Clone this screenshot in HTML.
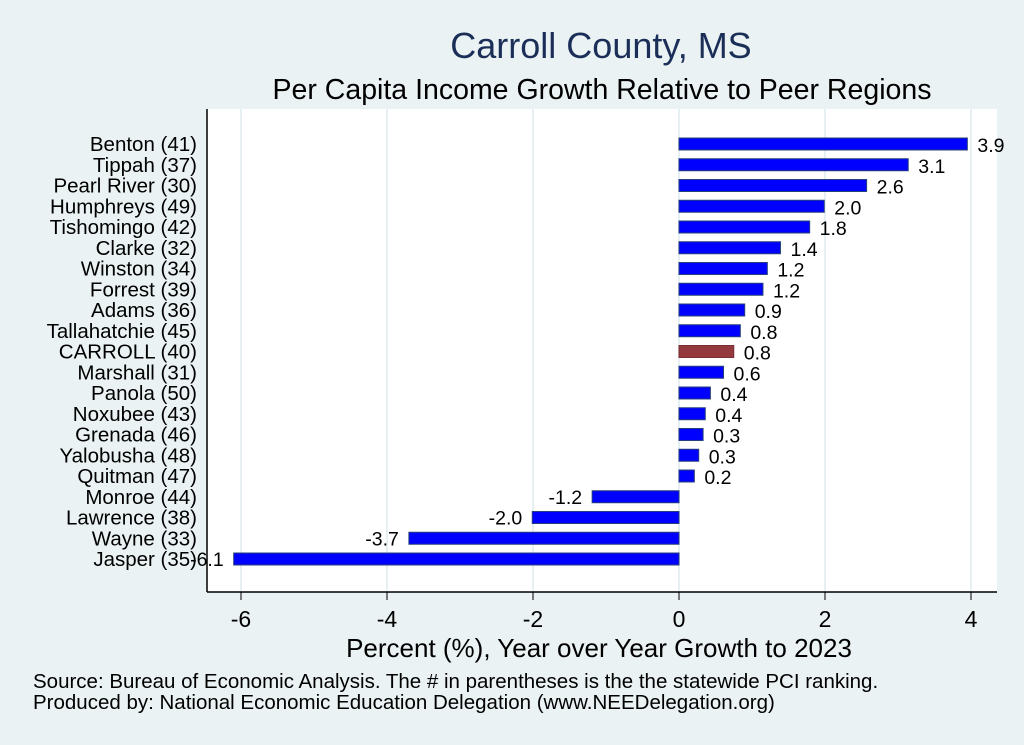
<!DOCTYPE html>
<html><head><meta charset="utf-8"><style>
body{margin:0;background:#eaf2f3;}
svg{display:block;font-family:"Liberation Sans",sans-serif;}
</style></head><body>
<svg id="chart" width="1024" height="745">
<rect x="0" y="0" width="1024" height="745" fill="#eaf2f3"/>
<text x="601" y="58" font-size="36" fill="#1a2e57" text-anchor="middle">Carroll County, MS</text>
<text x="602" y="99" font-size="28.5" fill="#000" text-anchor="middle">Per Capita Income Growth Relative to Peer Regions</text>
<rect x="207" y="109" width="790" height="483" fill="#fff"/>
<g id="grid"></g><g id="bars"></g><g id="labels"></g><g id="axis"></g>
<text x="599" y="657" font-size="26" fill="#000" text-anchor="middle">Percent (%), Year over Year Growth to 2023</text>
<text x="33" y="688" font-size="20.5" fill="#000">Source: Bureau of Economic Analysis. The # in parentheses is the the statewide PCI ranking.</text>
<text x="33" y="709" font-size="20.5" fill="#000">Produced by: National Economic Education Delegation (www.NEEDelegation.org)</text>
</svg>
<script>
const categories=["Benton (41)","Tippah (37)","Pearl River (30)","Humphreys (49)","Tishomingo (42)","Clarke (32)","Winston (34)","Forrest (39)","Adams (36)","Tallahatchie (45)","CARROLL (40)","Marshall (31)","Panola (50)","Noxubee (43)","Grenada (46)","Yalobusha (48)","Quitman (47)","Monroe (44)","Lawrence (38)","Wayne (33)","Jasper (35)"];
const values=[3.95,3.14,2.57,1.99,1.79,1.39,1.21,1.15,0.90,0.84,0.75,0.61,0.43,0.36,0.33,0.27,0.21,-1.19,-2.01,-3.70,-6.10];
const valueLabels=["3.9","3.1","2.6","2.0","1.8","1.4","1.2","1.2","0.9","0.8","0.8","0.6","0.4","0.4","0.3","0.3","0.2","-1.2","-2.0","-3.7","-6.1"];
const xTicks=[-6,-4,-2,0,2,4];
const highlight="CARROLL (40)";
const NS="http://www.w3.org/2000/svg";
const x=v=>679+v*73;
const y=i=>144+i*20.75;
function mk(tag,attrs,parent,txt){const e=document.createElementNS(NS,tag);for(const k in attrs)e.setAttribute(k,attrs[k]);if(txt!==undefined)e.textContent=txt;document.getElementById(parent).appendChild(e);return e;}
xTicks.forEach(t=>{
  const g=mk('line',{x1:x(t),x2:x(t),y1:109,y2:592,stroke:'#e6eff2','stroke-width':2},'grid');
  
  
  const tk=mk('line',{x1:x(t),x2:x(t),y1:592,y2:600,stroke:'#000','stroke-width':1},'axis');
  
  
  const tl=mk('text',{x:x(t),y:627,'font-size':23,'text-anchor':'middle'},'axis',String(t));
  
  
});
const ax=mk('line',{x1:207,x2:997,y1:592,y2:592,stroke:'#000','stroke-width':1.5},'axis');


const ay=mk('line',{x1:207,x2:207,y1:109,y2:592,stroke:'#000','stroke-width':1.5},'axis');


categories.forEach((c,i)=>{
  const v=values[i];const isH=c===highlight;
  const r=mk('rect',{x:Math.min(x(0),x(v)),y:y(i)-6,width:Math.abs(x(v)-x(0)),height:12,fill:isH?'#943a3f':'#0000ff',stroke:isH?'#7a2f33':'#26407a','stroke-width':1},'bars');
  
  
  const cl=mk('text',{x:197,y:y(i)+7,'font-size':20.5,'text-anchor':'end'},'labels',c);
  
  
  const vl=mk('text',{x:v>=0?x(v)+10:x(v)-10,y:v>=0?y(i)+8:y(i)+7,'font-size':19.5,'text-anchor':v>=0?'start':'end'},'labels',valueLabels[i]);
  
  
});
</script>
</body></html>
